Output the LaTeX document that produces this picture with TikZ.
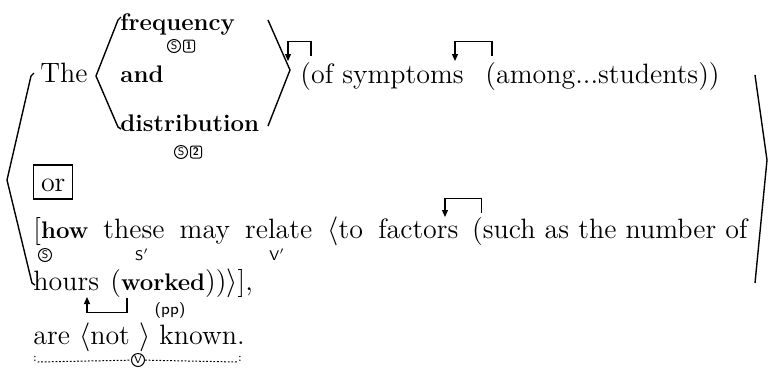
\documentclass[tikz,border=0pt]{standalone}
\usepackage{amsmath,amssymb}
\usepackage{xcolor}
\usepackage{tikz}
\usetikzlibrary{arrows.meta,positioning}

\newcommand{\bwd}[1]{{\fontsize{12}{14}\selectfont\bfseries #1}}
\newcommand{\widesp}{\spaceskip=7.6pt plus 1pt\relax}

\begin{document}
\begin{tikzpicture}[
  x=0.5pt, y=-0.5pt,
  txt/.style={anchor=base west, inner sep=0pt, font=\fontsize{14}{17}\selectfont},
  bw/.style={txt, font=\fontsize{12}{14}\selectfont\bfseries},
  circ/.style={draw, circle, inner sep=0pt, minimum size=6.5pt, line width=0.5pt,
               font=\sffamily\fontsize{5.5}{5.5}\selectfont},
  sqb/.style={draw, rounded corners=1pt, inner sep=0pt, minimum width=5.5pt,
              minimum height=6pt, line width=0.5pt,
              font=\sffamily\bfseries\fontsize{5.5}{5.5}\selectfont},
  tag/.style={inner sep=0pt, font=\sffamily\fontsize{7}{8}\selectfont},
  brk/.style={line width=0.7pt, line join=miter},
  bent/.style={line width=0.6pt, -{Triangle[length=3.5pt,width=3pt]}},
  dotline/.style={dash pattern=on 0.9pt off 0.9pt, line width=0.5pt},
]
  \useasboundingbox (0,0) rectangle (770,371);

  % subject: The < frequency and distribution >
  \node[txt] (the) at (40,82) {The};
  \node[bw] (freq) at (120,30) {frequency};
  \node[bw] (and) at (120,82) {and};
  \node[bw] (distr) at (120,131) {distribution};
  \node[circ] (s1) at (174,46) {S};
  \node[sqb, right=1pt of s1] (n1) {1};
  \node[circ] (s2) at (181,152) {S};
  \node[sqb, right=1pt of s2] (n2) {2};

  \node[txt] (ofsym) at (300,83) {(of symptoms};
  \node[txt] (among) at (485,83) {(among...students))};

  \node[txt, draw, line width=0.6pt, inner xsep=3.7pt, text height=13pt,
        text depth=4pt] (orbox) at (33,191) {or};

  % second subject: [how ...]
  \node[txt] (how) at (33,238)
    {\widesp[\bwd{how} these may relate $\langle$to factors};
  \node[txt] (such) at ([xshift=6.5pt]how.base east) {(such as the number of};
  \node[circ] (sh) at (45,255) {S};
  \node[tag] (sp) at (142,255) {S$'$};
  \node[tag] (vp) at (277,255) {V$'$};

  \node[txt] (hours) at (33,290) {hours};
  \node[txt] (worked) at (110,290) {(\bwd{worked}))$\rangle$],};
  \node[tag, font=\sffamily\fontsize{8}{9}\selectfont] (pp) at (170,310) {(pp)};

  % verb
  \node[txt] (are) at (33,344) {are $\langle$not $\rangle$ known.};
  \node[tag, anchor=south, font=\fontsize{6}{6}\selectfont] (cl) at (35,362) {:};
  \node[circ] (vv) at (138,360) {V};
  \node[tag, anchor=south, font=\fontsize{6}{6}\selectfont] (cr) at (240,362) {:};
  \draw[dotline] (cl.south east) -- (vv);
  \draw[dotline] (vv) -- (cr.south west);

  % brackets
  \draw[brk] (121,17) -- (118,20) -- (96,76) -- (118,127) -- (121,129);
  \draw[brk] (268,20) -- (290,70) -- (268,126);
  \draw[brk] (34,73) -- (31,76) -- (7,180) -- (32,283) -- (35,285);
  \draw[brk] (755,75) -- (767,160) -- (755,283);

  % modifier arrows
  \coordinate (t1) at (288,61);
  \coordinate (t2) at (455,61);
  \coordinate (t3) at (445,217);
  \coordinate (t4) at (87,297);
  \draw[bent] ([xshift=5.5pt,yshift=3pt]ofsym.north west) -- ++(0,-14) -| (t1);
  \draw[bent] ([xshift=3.5pt,yshift=3pt]among.north west) -- ++(0,-14) -| (t2);
  \draw[bent] ([xshift=5pt,yshift=2pt]such.north west) -- ++(0,-14) -| (t3);
  \draw[bent] ([xshift=8.5pt]worked.south west) -- ++(0,15) -| (t4);
\end{tikzpicture}
\end{document}
